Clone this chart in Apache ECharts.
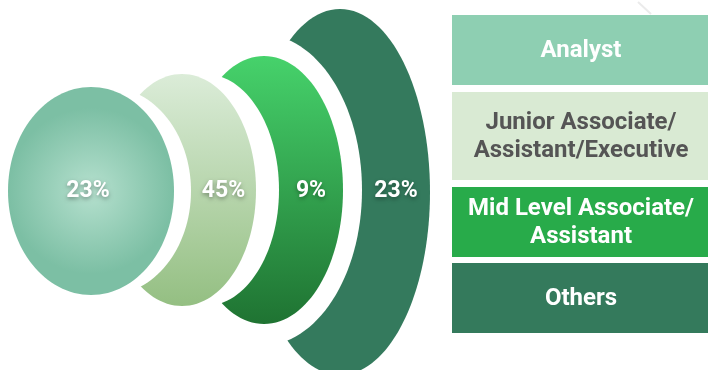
<!DOCTYPE html>
<html>
<head>
<meta charset="utf-8">
<script src="https://cdn.jsdelivr.net/npm/echarts@6/dist/echarts.min.js"></script>
<style>
  html, body { margin: 0; padding: 0; background: #fff; }
  #chart { width: 708px; height: 370px; }
</style>
</head>
<body>
<div id="chart"></div>
<script>
// Role groups and their share of respondents
const categories = ['Analyst', 'Junior Associate/\nAssistant/Executive', 'Mid Level Associate/\nAssistant', 'Others'];
const shares = [23, 45, 9, 23];

// Visual layout of the nested ellipses (in chart pixel units of the hidden axes).
// Each ellipse casts a white cut-out onto the one behind it: haloShift moves it
// right, haloPad grows it.
const ellipseLayout = [
  { cx: 91,  cy: 191, rx: 83, ry: 104, haloShift: 17, haloPad: 0 },
  { cx: 182, cy: 190, rx: 74, ry: 116, haloShift: 23, haloPad: 0 },
  { cx: 264, cy: 190, rx: 79, ry: 134, haloShift: -3, haloPad: 22 },
  { cx: 340, cy: 192, rx: 90, ry: 183, haloShift: 0,  haloPad: 0 }
];

const fills = [
  new echarts.graphic.RadialGradient(0.5, 0.5, 0.5, [
    { offset: 0, color: '#b5e0ce' }, { offset: 1, color: '#7cbfa4' }
  ]),
  new echarts.graphic.LinearGradient(0, 0, 0, 1, [
    { offset: 0, color: '#dbecd8' }, { offset: 1, color: '#94bf82' }
  ]),
  new echarts.graphic.LinearGradient(0, 0, 0, 1, [
    { offset: 0, color: '#46d26b' }, { offset: 1, color: '#1f7332' }
  ]),
  '#347a5d'
];

const boxColors = ['#8ecfb2', '#d9ead3', '#28ab4a', '#347a5c'];
const boxTextColors = ['#ffffff', '#555555', '#ffffff', '#ffffff'];
const boxTops = [15, 92, 187, 263];
const boxHeights = [70, 88, 70, 70];

const chart = echarts.init(document.getElementById('chart'), null, { renderer: 'canvas' });

const n = shares.length;

function haloRight(g) {
  return g.cx + g.haloShift + g.rx + g.haloPad;
}

function renderEllipse(params, api) {
  const i = params.dataIndex;
  const g = ellipseLayout[i];
  const c = api.coord([g.cx, g.cy]);
  const r = api.size([g.rx, g.ry]);
  const hc = api.coord([g.cx + g.haloShift, g.cy]);
  const hr = api.size([g.rx + g.haloPad, g.ry + g.haloPad]);
  const base = (n - i) * 10;
  // label sits in the visible part: between the previous cut-out and this edge
  let labelX = c[0] - 3;
  if (i > 0) {
    const left = api.coord([haloRight(ellipseLayout[i - 1]), 0])[0];
    labelX = (left + c[0] + r[0]) / 2;
  }
  const labelY = api.coord([0, 191])[1];
  return {
    type: 'group',
    children: [
      {
        type: 'ellipse',
        shape: { cx: hc[0], cy: hc[1], rx: hr[0], ry: hr[1] },
        style: { fill: '#ffffff' },
        z2: base
      },
      {
        type: 'ellipse',
        shape: { cx: c[0], cy: c[1], rx: r[0], ry: r[1] },
        style: { fill: fills[i] },
        z2: base + 1
      },
      {
        type: 'text',
        x: labelX,
        y: labelY,
        style: {
          text: api.value(1) + '%',
          fill: '#ffffff',
          font: 'bold 23px Roboto, sans-serif',
          align: 'center',
          verticalAlign: 'middle',
          textShadowColor: 'rgba(0,0,0,0.35)',
          textShadowBlur: 4,
          textShadowOffsetY: 2
        },
        z2: base + 2
      }
    ]
  };
}

const legendGraphics = [];
categories.forEach(function (name, i) {
  legendGraphics.push({
    type: 'rect',
    shape: { x: 452, y: boxTops[i], width: 256, height: boxHeights[i] },
    style: { fill: boxColors[i] }
  });
  legendGraphics.push({
    type: 'text',
    x: 581,
    y: boxTops[i] + boxHeights[i] / 2 + 1,
    style: {
      text: name,
      fill: boxTextColors[i],
      font: 'bold 24px Roboto, sans-serif',
      lineHeight: 28,
      align: 'center',
      verticalAlign: 'middle'
    }
  });
});
legendGraphics.push({
  type: 'line',
  shape: { x1: 638, y1: 2, x2: 651, y2: 14 },
  style: { stroke: '#ebebeb', lineWidth: 2 }
});

chart.setOption({
  animation: false,
  grid: { left: 0, right: 0, top: 0, bottom: 0 },
  xAxis: { type: 'value', min: 0, max: 708, show: false },
  yAxis: { type: 'value', min: 0, max: 370, inverse: true, show: false },
  series: [{
    type: 'custom',
    renderItem: renderEllipse,
    clip: false,
    data: shares.map(function (v, i) { return [i, v]; })
  }],
  graphic: legendGraphics
});
</script>
</body>
</html>
